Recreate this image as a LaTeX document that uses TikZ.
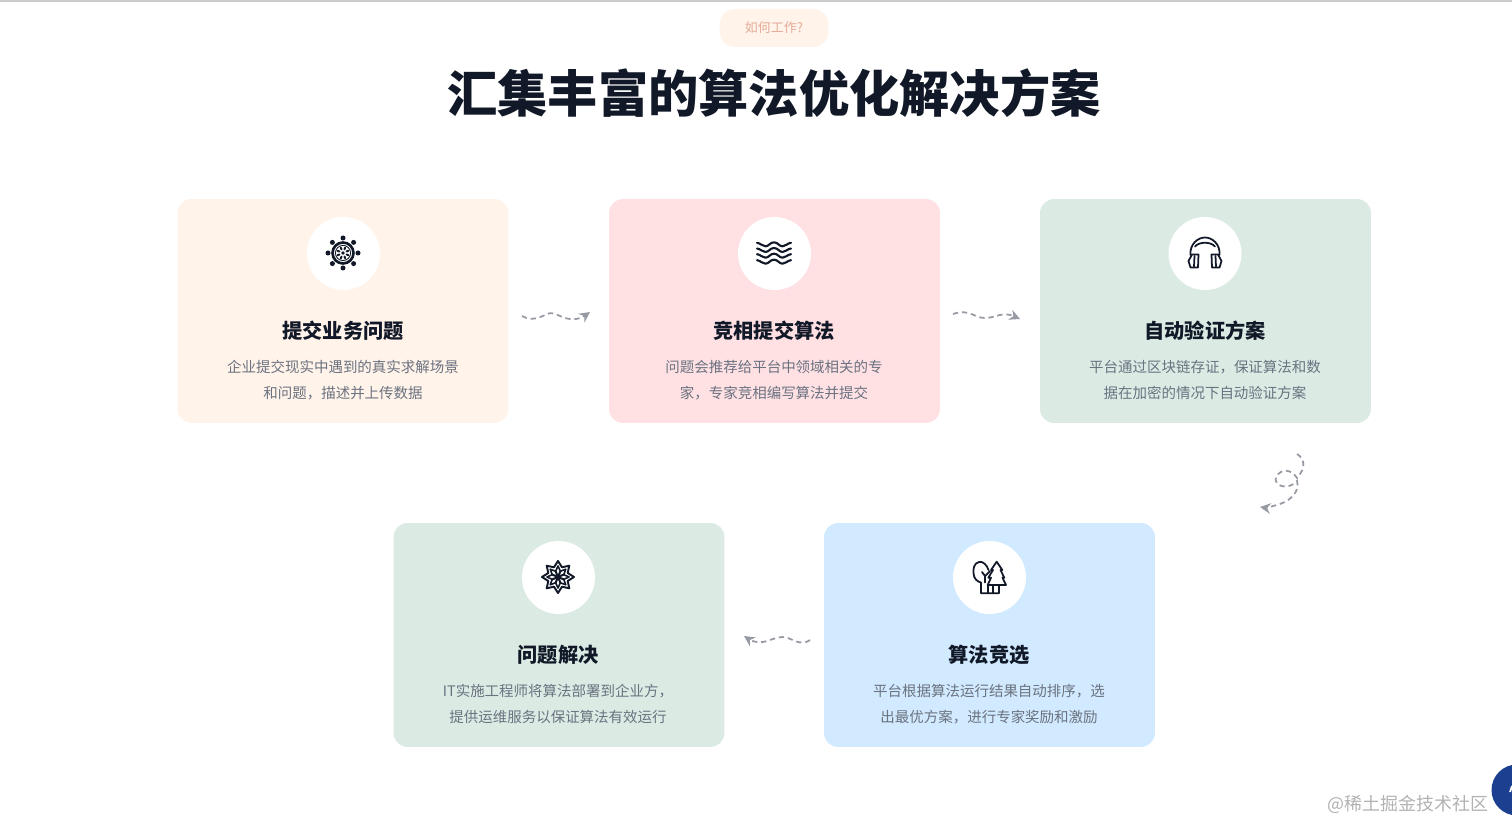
\documentclass[tikz,border=0pt]{standalone}
\usepackage{fontspec}
\setmainfont{Noto Sans CJK SC}
\newfontfamily\cjk{Noto Sans CJK SC}
\newfontfamily\cjkheavy{Noto Sans CJK SC Black}
\usetikzlibrary{arrows.meta}
\definecolor{inktitle}{HTML}{111827}
\definecolor{inkbody}{HTML}{6B7280}
\definecolor{inkflow}{HTML}{969AA3}
\definecolor{inkpill}{HTML}{E5AB98}
\definecolor{inknavy}{HTML}{1D3F8F}
\definecolor{peachcard}{HTML}{FFF3EA}
\definecolor{pinkcard}{HTML}{FFE1E4}
\definecolor{greencard}{HTML}{DBEBE4}
\definecolor{bluecard}{HTML}{D1EAFF}
\tikzset{
  cardbox/.style={rounded corners=8pt, minimum width=6.62cm, minimum height=4.48cm, inner sep=0pt},
  iconspot/.style={circle, fill=white, minimum size=1.46cm, inner sep=0pt},
  cardtitle/.style={text=inktitle, font=\cjk\bfseries\fontsize{11.5}{14}\selectfont},
  carddesc/.style={text=inkbody, align=center, font=\cjk\fontsize{8.25}{14.74}\selectfont},
  flowline/.style={draw=inkflow, line width=1pt, dash pattern=on 3pt off 2.2pt, -{Stealth[length=6pt,width=6pt]}},
  iconline/.style={draw=inktitle, line width=1pt, line join=round, line cap=round}
}
\begin{document}
\begin{tikzpicture}[x=0.02cm,y=-0.02cm]
  \useasboundingbox (0,0) rectangle (1512,837);
  \fill[white] (0,0) rectangle (1512,837);
  \fill[black!20] (0,0) rectangle (1512,2);

  \node[rounded corners=9pt, fill=peachcard, minimum width=2.18cm, minimum height=0.76cm] (pill) at (774,28) {};
  \node[text=inkpill, font=\cjk\fontsize{7.4}{9}\selectfont] (pilltext) at (774,28) {如何工作?};
  \node[text=inktitle, font=\cjkheavy\fontsize{28.6}{32}\selectfont] (headline) at (774,93) {汇集丰富的算法优化解决方案};

  \node[cardbox, fill=peachcard] (submit) at (343,311) {};
  \node[cardbox, fill=pinkcard] (compete) at (774.5,311) {};
  \node[cardbox, fill=greencard] (verify) at (1205.5,311) {};
  \node[cardbox, fill=greencard] (solve) at (559,635) {};
  \node[cardbox, fill=bluecard] (rank) at (989.5,635) {};

  \node[iconspot] (submiticon) at (343.5,253.5) {};
  \node[iconspot] (competeicon) at (774.5,253.5) {};
  \node[iconspot] (verifyicon) at (1205,253.5) {};
  \node[iconspot] (solveicon) at (558.5,577.5) {};
  \node[iconspot] (rankicon) at (989.5,577.5) {};

  \node[cardtitle] (submittitle) at (343,331) {提交业务问题};
  \node[cardtitle] (competetitle) at (774,331) {竞相提交算法};
  \node[cardtitle] (verifytitle) at (1205,331) {自动验证方案};
  \node[cardtitle] (solvetitle) at (558,655) {问题解决};
  \node[cardtitle] (ranktitle) at (989,655) {算法竞选};

  \node[carddesc] (submitdesc) at (343,380) {企业提交现实中遇到的真实求解场景\\和问题，描述并上传数据};
  \node[carddesc] (competedesc) at (774,380) {问题会推荐给平台中领域相关的专\\家，专家竞相编写算法并提交};
  \node[carddesc] (verifydesc) at (1205,380) {平台通过区块链存证，保证算法和数\\据在加密的情况下自动验证方案};
  \node[carddesc] (solvedesc) at (558,704) {IT实施工程师将算法部署到企业方，\\提供运维服务以保证算法有效运行};
  \node[carddesc] (rankdesc) at (989,704) {平台根据算法运行结果自动排序，选\\出最优方案，进行专家奖励和激励};

  \begin{scope}[shift={(343,253)}]
    \draw[iconline, line width=1.5pt] (0,0) circle (10.5);
    \draw[iconline, line width=0.5pt] (0,0) circle (7.6);
    \fill[inktitle] (0,0) circle (1.9);
    \foreach \a in {0,45,...,315} {
      \fill[inktitle] (\a:15) circle (2.5);
      \draw[iconline, line width=1.1pt] (\a+22:3.8) -- (\a+22:6);
    }
  \end{scope}

  \begin{scope}[shift={(774,253)}]
    \foreach \y in {-8.7,-3,2.7,8.7}
      \draw[iconline, line width=1.2pt] (-17,\y-1.5) .. controls (-13,\y-1) and (-12,\y+2) .. (-8.5,\y+2)
        .. controls (-5,\y+2) and (-4,\y-2) .. (0,\y-2) .. controls (4,\y-2) and (5,\y+2) .. (8.5,\y+2)
        .. controls (12,\y+2) and (13,\y-1) .. (17,\y-1.5);
  \end{scope}

  \begin{scope}[shift={(1205,253)}]
    \draw[iconline] (-14.5,2) .. controls (-15.5,-9) and (-7,-15.5) .. (0,-15.5) .. controls (7,-15.5) and (15.5,-9) .. (14.5,2);
    \draw[iconline] (-10,-6.5) .. controls (-6,-11.5) and (6,-11.5) .. (10,-6.5);
    \draw[iconline] (-13,1.5) -- (-6.5,1.5) -- (-7,14.5) -- (-14.5,14.5) -- (-16.5,8) -- cycle;
    \draw[iconline] (13,1.5) -- (6.5,1.5) -- (7,14.5) -- (14.5,14.5) -- (16.5,8) -- cycle;
    \draw[iconline] (-10.5,3) -- (-11,13.5);
    \draw[iconline] (10.5,3) -- (11,13.5);
  \end{scope}

  \begin{scope}[shift={(558,577)}]
    \foreach \a in {0,45,...,315} {
      \draw[iconline, line width=1.1pt] (\a+22.5:10.5) -- (\a:16) -- (\a-22.5:10.5);
      \draw[iconline, line width=0.9pt] (0,0) -- (\a+20:6.5) -- (\a:11) -- (\a-20:6.5) -- cycle;
    }
    \fill[inktitle] (0,0) circle (1.5);
  \end{scope}

  \begin{scope}[shift={(989,577)}]
    \draw[iconline] (-0.5,-7) .. controls (-2,-12) and (-6,-16) .. (-10,-15) .. controls (-15,-14) and (-16,-8) .. (-15.5,-4)
      .. controls (-15.5,2) and (-11,5) .. (-8,5.5) -- (-8,16.3) -- (10,16.3) -- (10,8);
    \draw[iconline] (4.3,8) -- (4.3,16.3);
    \draw[iconline] (-0.7,16.3) -- (-0.7,8);
    \draw[iconline] (-7,-5) -- (-4,-1) -- (1,-6);
    \draw[iconline] (-4,-1) -- (-4,5.5);
    \draw[iconline] (7.7,-15.3) -- (2,-7) -- (4,-7) -- (-0.7,0.7) -- (2,0.7) -- (-1.3,8) -- (17,8) -- (13.5,0.7) -- (15.3,0.7) -- (11.5,-7) -- (13.3,-7) -- cycle;
  \end{scope}

  \coordinate (flowAstart) at (522,316);
  \coordinate (flowAend) at (590,312);
  \coordinate (flowBstart) at (953,314);
  \coordinate (flowBend) at (1020,319);
  \coordinate (flowCstart) at (1297,454);
  \coordinate (flowCend) at (1260,507);
  \coordinate (flowDstart) at (810,640);
  \coordinate (flowDend) at (744,636);

  \draw[flowline] (flowAstart) .. controls (528,320) and (536,320) .. (547,314) .. controls (555,311) and (560,318) .. (570,319) .. controls (578,320) and (583,317) .. (flowAend);
  \draw[flowline] (flowBstart) .. controls (960,311) and (968,312) .. (976,316) .. controls (985,320) and (992,317) .. (1000,315) .. controls (1008,313) and (1013,316) .. (flowBend);
  \draw[flowline] (flowCstart) .. controls (1305,459) and (1306,468) .. (1297,478) .. controls (1292,470) and (1282,467) .. (1276,477) .. controls (1273,486) and (1288,491) .. (1297,481) .. controls (1300,490) and (1292,500) .. (1280,504) .. controls (1273,506) and (1267,508) .. (flowCend);
  \draw[flowline] (flowDstart) .. controls (803,645) and (797,642) .. (788,638) .. controls (780,635) and (772,640) .. (763,642) .. controls (755,643) and (750,640) .. (flowDend);

  \fill[inknavy] (1517,790) circle (25.5);
  \draw[white, line width=1pt] (1510,792) -- (1512,786);
  \node[text=black!30, font=\cjk\fontsize{10.2}{12}\selectfont] (watermark) at (1408,804) {@稀土掘金技术社区};
\end{tikzpicture}
\end{document}
